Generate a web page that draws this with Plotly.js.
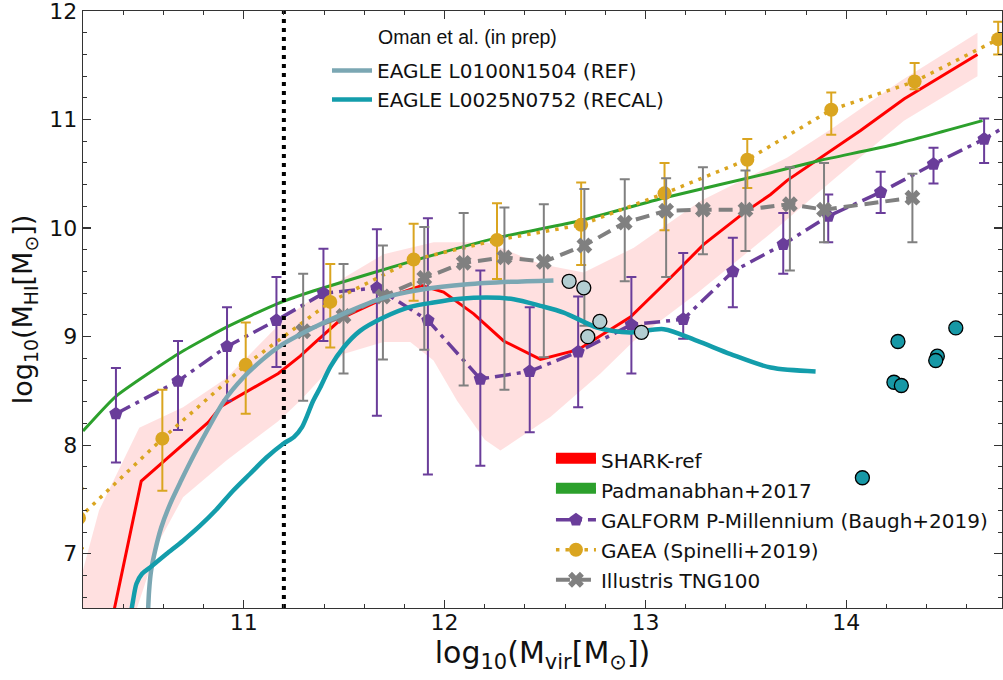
<!DOCTYPE html>
<html><head><meta charset="utf-8">
<script src="https://cdn.plot.ly/plotly-3.0.1.min.js"></script>
<style>html,body{margin:0;padding:0;background:#fff}#chart{width:1003px;height:680px}</style>
</head><body><div id="chart"></div>
<script>
// ---- SHARK-ref (median + 16-84 band) ----
var sharkX = [10.34, 10.49, 10.823, 10.889, 11.172, 11.281, 11.346, 11.497, 11.696, 11.887, 11.995, 12.145, 12.294, 12.477, 12.665, 12.925, 13.091, 13.29, 13.49, 13.623, 13.706, 13.872, 14.071, 14.287, 14.653];
var sharkY = [6.35, 7.67, 8.21, 8.36, 8.66, 8.82, 8.93, 9.18, 9.35, 9.47, 9.41, 9.21, 8.96, 8.79, 8.88, 9.18, 9.48, 9.85, 10.14, 10.31, 10.44, 10.65, 10.90, 11.19, 11.60];
var bandUpX = [10.2, 10.28, 10.48, 10.698, 10.914, 11.197, 11.281, 11.497, 11.696, 11.945, 12.21, 12.477, 12.693, 12.942, 13.274, 13.706, 13.938, 14.27, 14.653];
var bandUpY = [6.85, 7.4, 8.16, 8.35, 8.62, 9.15, 9.27, 9.54, 9.76, 9.87, 9.87, 9.67, 9.59, 9.82, 10.25, 10.65, 10.93, 11.355, 11.80];
var bandLoX = [10.2, 10.46, 10.58, 10.698, 10.914, 11.172, 11.281, 11.497, 11.696, 11.829, 11.945, 12.062, 12.2, 12.278, 12.527, 12.776, 12.942, 13.257, 13.623, 13.938, 14.287, 14.653];
var bandLoY = [6.3, 6.45, 7.12, 7.52, 7.86, 8.22, 8.41, 8.84, 8.95, 8.95, 8.78, 8.41, 8.05, 7.95, 8.26, 8.66, 8.96, 9.40, 9.95, 10.45, 10.99, 11.40];

// ---- Padmanabhan+2017 ----
var padX = [10.2, 10.364, 10.673, 10.917, 11.163, 11.346, 11.846, 12.261, 12.68, 13.095, 13.623, 13.872, 14.237, 14.678];
var padY = [8.13, 8.45, 8.84, 9.09, 9.30, 9.42, 9.70, 9.91, 10.07, 10.28, 10.51, 10.625, 10.77, 10.99];

// ---- GALFORM P-Millennium (Baugh+2019) ----
var galX  = [10.364, 10.673, 10.917, 11.163, 11.397, 11.663, 11.917, 12.178, 12.424, 12.665, 12.930, 13.188, 13.435, 13.686, 13.910, 14.171, 14.434, 14.686, 14.94];
var galY  = [8.29, 8.59, 8.91, 9.15, 9.40, 9.45, 9.15, 8.61, 8.68, 8.86, 9.11, 9.16, 9.60, 9.85, 10.11, 10.33, 10.59, 10.82, 11.10];
var galHi = [8.71, 8.96, 9.27, 9.55, 9.81, 9.99, 10.09, 9.61, 9.27, 9.37, 9.55, 9.77, 9.91, 10.14, 10.31, 10.52, 10.74, 11.01, 11.30];
var galLo = [7.84, 8.14, 8.41, 8.72, 8.96, 8.27, 7.73, 7.81, 8.12, 8.35, 8.66, 8.98, 9.27, 9.58, 9.87, 10.14, 10.41, 10.60, 10.90];

// ---- GAEA (Spinelli+2019) ----
var gaeaX  = [10.18, 10.595, 11.01, 11.431, 11.846, 12.261, 12.680, 13.095, 13.507, 13.925, 14.34, 14.756];
var gaeaY  = [7.33, 8.06, 8.74, 9.32, 9.71, 9.89, 10.03, 10.32, 10.63, 11.09, 11.35, 11.74];
var gaeaHi = [7.60, 8.51, 9.13, 9.67, 10.04, 10.23, 10.42, 10.60, 10.82, 11.25, 11.52, 11.90];
var gaeaLo = [7.05, 7.58, 8.29, 8.90, 9.33, 9.53, 9.66, 9.98, 10.37, 10.86, 11.28, 11.60];

// ---- Illustris TNG100 ----
var tngX  = [11.296, 11.497, 11.693, 11.899, 12.095, 12.298, 12.494, 12.696, 12.897, 13.103, 13.286, 13.498, 13.719, 13.889, 14.329];
var tngY  = [9.05, 9.19, 9.37, 9.54, 9.68, 9.73, 9.69, 9.84, 10.05, 10.16, 10.17, 10.17, 10.22, 10.17, 10.28];
var tngHi = [9.58, 9.67, 9.84, 10.01, 10.14, 10.19, 10.22, 10.36, 10.45, 10.46, 10.56, 10.53, 10.56, 10.60, 10.50];
var tngLo = [8.41, 8.66, 8.79, 8.88, 8.55, 8.51, 8.81, 9.10, 9.51, 9.55, 9.76, 9.79, 9.61, 9.87, 9.87];

// ---- EAGLE (Oman et al. in prep) ----
var refX = [10.524, 10.529, 10.539, 10.559, 10.589, 10.634, 10.688, 10.758, 10.831, 10.903, 10.997, 11.092, 11.182, 11.346, 11.495, 11.695, 11.894, 12.113, 12.328, 12.542];
var refY = [6.475, 6.659, 6.843, 7.027, 7.239, 7.460, 7.672, 7.930, 8.179, 8.409, 8.621, 8.786, 8.915, 9.081, 9.210, 9.357, 9.436, 9.482, 9.505, 9.518];
var recX = [10.439, 10.449, 10.466, 10.494, 10.534, 10.615, 10.698, 10.783, 10.863, 10.947, 11.032, 11.112, 11.197, 11.251, 11.291, 11.346, 11.381, 11.431, 11.497, 11.579, 11.696, 11.829, 11.945, 12.078, 12.211, 12.344, 12.477, 12.593, 12.760, 12.925, 13.091, 13.258, 13.424, 13.623, 13.847];
var recY = [6.457, 6.567, 6.724, 6.816, 6.874, 6.997, 7.120, 7.258, 7.405, 7.580, 7.737, 7.884, 8.013, 8.077, 8.169, 8.409, 8.531, 8.722, 8.900, 9.053, 9.176, 9.274, 9.314, 9.348, 9.360, 9.345, 9.284, 9.222, 9.084, 9.038, 9.069, 8.961, 8.839, 8.715, 8.679];
var omanRefX = [12.62, 12.693, 12.773, 12.713, 12.98];
var omanRefY = [9.51, 9.45, 9.14, 9.00, 9.04];
var omanRecX = [14.257, 14.545, 14.453, 14.445, 14.237, 14.274, 14.08];
var omanRecY = [8.955, 9.08, 8.82, 8.78, 8.58, 8.55, 7.70];

// ---- resolution limit ----
var limitX = [11.2, 11.2];
var limitY = [6.5, 12];

function up(y, hi) { return y.map(function (v, i) { return hi[i] - v; }); }
function dn(y, lo) { return y.map(function (v, i) { return v - lo[i]; }); }

var cPurple = '#6a3d9a', cGold = '#daa520', cGray = '#808080', cGreen = '#2ca02c', cRed = '#ff0000';
var cRef = '#7ba7b3', cRec = '#139dab';

var traces = [
  { x: bandUpX.concat(bandLoX.slice().reverse()), y: bandUpY.concat(bandLoY.slice().reverse()),
    mode: 'lines', fill: 'toself', fillcolor: 'rgba(255,0,0,0.12)', line: { width: 0 }, showlegend: false, hoverinfo: 'skip' },
  { x: sharkX, y: sharkY, mode: 'lines', line: { color: cRed, width: 3 }, showlegend: false },
  { x: padX, y: padY, mode: 'lines', line: { color: cGreen, width: 3, shape: 'spline', smoothing: 0.5 }, showlegend: false },
  { x: galX, y: galY, mode: 'lines+markers', name: 'GALFORM P-Millennium (Baugh+2019)', legendgroup: 'g3', legendrank: 3,
    line: { color: cPurple, width: 3.5, dash: '16px,6px,4px,6px' }, marker: { symbol: 'pentagon', size: 14, color: cPurple },
    error_y: { type: 'data', symmetric: false, array: up(galY, galHi), arrayminus: dn(galY, galLo), color: cPurple, thickness: 2, width: 5 } },
  { x: gaeaX, y: gaeaY, mode: 'lines+markers', name: 'GAEA (Spinelli+2019)', legendgroup: 'g4', legendrank: 4,
    line: { color: cGold, width: 3.5, dash: '3.5px,6px' }, marker: { symbol: 'circle', size: 14, color: cGold },
    error_y: { type: 'data', symmetric: false, array: up(gaeaY, gaeaHi), arrayminus: dn(gaeaY, gaeaLo), color: cGold, thickness: 2, width: 5 } },
  { x: tngX, y: tngY, mode: 'lines+markers', name: 'Illustris TNG100', legendgroup: 'g5', legendrank: 5,
    line: { color: cGray, width: 4, dash: '14px,7px' }, marker: { symbol: 'x', size: 14, color: cGray },
    error_y: { type: 'data', symmetric: false, array: up(tngY, tngHi), arrayminus: dn(tngY, tngLo), color: cGray, thickness: 2, width: 5 } },
  { x: [null], y: [null], mode: 'lines', fill: 'toself', fillcolor: cRed, name: 'SHARK-ref', legendgroup: 'g1', legendrank: 1,
    line: { color: cRed, width: 10 } },
  { x: [null], y: [null], mode: 'lines', fill: 'toself', fillcolor: cGreen, name: 'Padmanabhan+2017', legendgroup: 'g2', legendrank: 2,
    line: { color: cGreen, width: 10 } },
  { x: limitX, y: limitY, mode: 'lines', line: { color: '#000', width: 4, dash: '4px,5px' }, showlegend: false },
  { x: refX, y: refY, mode: 'lines', name: 'EAGLE L0100N1504 (REF)', legend: 'legend2', legendgroup: 'e1',
    line: { color: cRef, width: 4.5, shape: 'spline', smoothing: 0.8 } },
  { x: recX, y: recY, mode: 'lines', name: 'EAGLE L0025N0752 (RECAL)', legend: 'legend2', legendgroup: 'e2',
    line: { color: cRec, width: 4.5, shape: 'spline', smoothing: 0.8 } },
  { x: omanRefX, y: omanRefY, mode: 'markers', showlegend: false,
    marker: { symbol: 'circle', size: 14, color: '#b3cdd1', line: { color: '#000', width: 1.3 } } },
  { x: omanRecX, y: omanRecY, mode: 'markers', showlegend: false,
    marker: { symbol: 'circle', size: 14, color: '#1798a6', line: { color: '#000', width: 1.3 } } }
];

var axisCommon = {
  ticks: 'inside', ticklen: 8, tickwidth: 1.3, tickcolor: '#333',
  showline: true, linecolor: '#333', linewidth: 1.3, mirror: 'ticks',
  showgrid: false, zeroline: false, ticklabeloverflow: 'allow',
  tickfont: { size: 22, family: 'DejaVu Sans', color: '#111' },
  minor: { dtick: 0.2, ticks: 'inside', ticklen: 4, tickwidth: 1, tickcolor: '#333', showgrid: false }
};

var layout = {
  width: 1003, height: 680,
  margin: { l: 83, r: 1, t: 11, b: 72 },
  paper_bgcolor: '#fff', plot_bgcolor: '#fff',
  font: { family: 'DejaVu Sans', color: '#111' },
  showlegend: true, hovermode: false,
  xaxis: Object.assign({}, axisCommon, {
    range: [10.2, 14.775], dtick: 1, tick0: 0, ticklabelstandoff: -6,
    title: { text: 'log<sub>10</sub>(M<sub>vir</sub>[M<sub>⊙</sub>])', font: { size: 30, family: 'DejaVu Sans', color: '#111' }, standoff: 3 }
  }),
  yaxis: Object.assign({}, axisCommon, {
    range: [6.5, 12], dtick: 1, tick0: 0,
    title: { text: 'log<sub>10</sub>(M<sub>HI</sub>[M<sub>⊙</sub>])', font: { size: 27, family: 'DejaVu Sans', color: '#111' }, standoff: 8 }
  }),
  legend: { x: 0.5092, y: 0.281, xanchor: 'left', yanchor: 'top', bgcolor: 'rgba(0,0,0,0)', itemwidth: 40,
    font: { size: 20, family: 'DejaVu Sans', color: '#111' }, tracegroupgap: 1, traceorder: 'grouped' },
  legend2: { x: 0.2655, y: 0.933, xanchor: 'left', yanchor: 'top', bgcolor: 'rgba(0,0,0,0)', itemwidth: 40,
    font: { size: 20, family: 'DejaVu Sans', color: '#111' }, tracegroupgap: 0, traceorder: 'grouped' },
  annotations: [{ text: 'Oman et al. (in prep)', xref: 'paper', yref: 'paper', x: 0.319, y: 0.956,
    xanchor: 'left', yanchor: 'middle', showarrow: false, font: { size: 19.5, family: 'Liberation Sans', color: '#111' } }]
};

Plotly.newPlot('chart', traces, layout, { staticPlot: true });
</script></body></html>
